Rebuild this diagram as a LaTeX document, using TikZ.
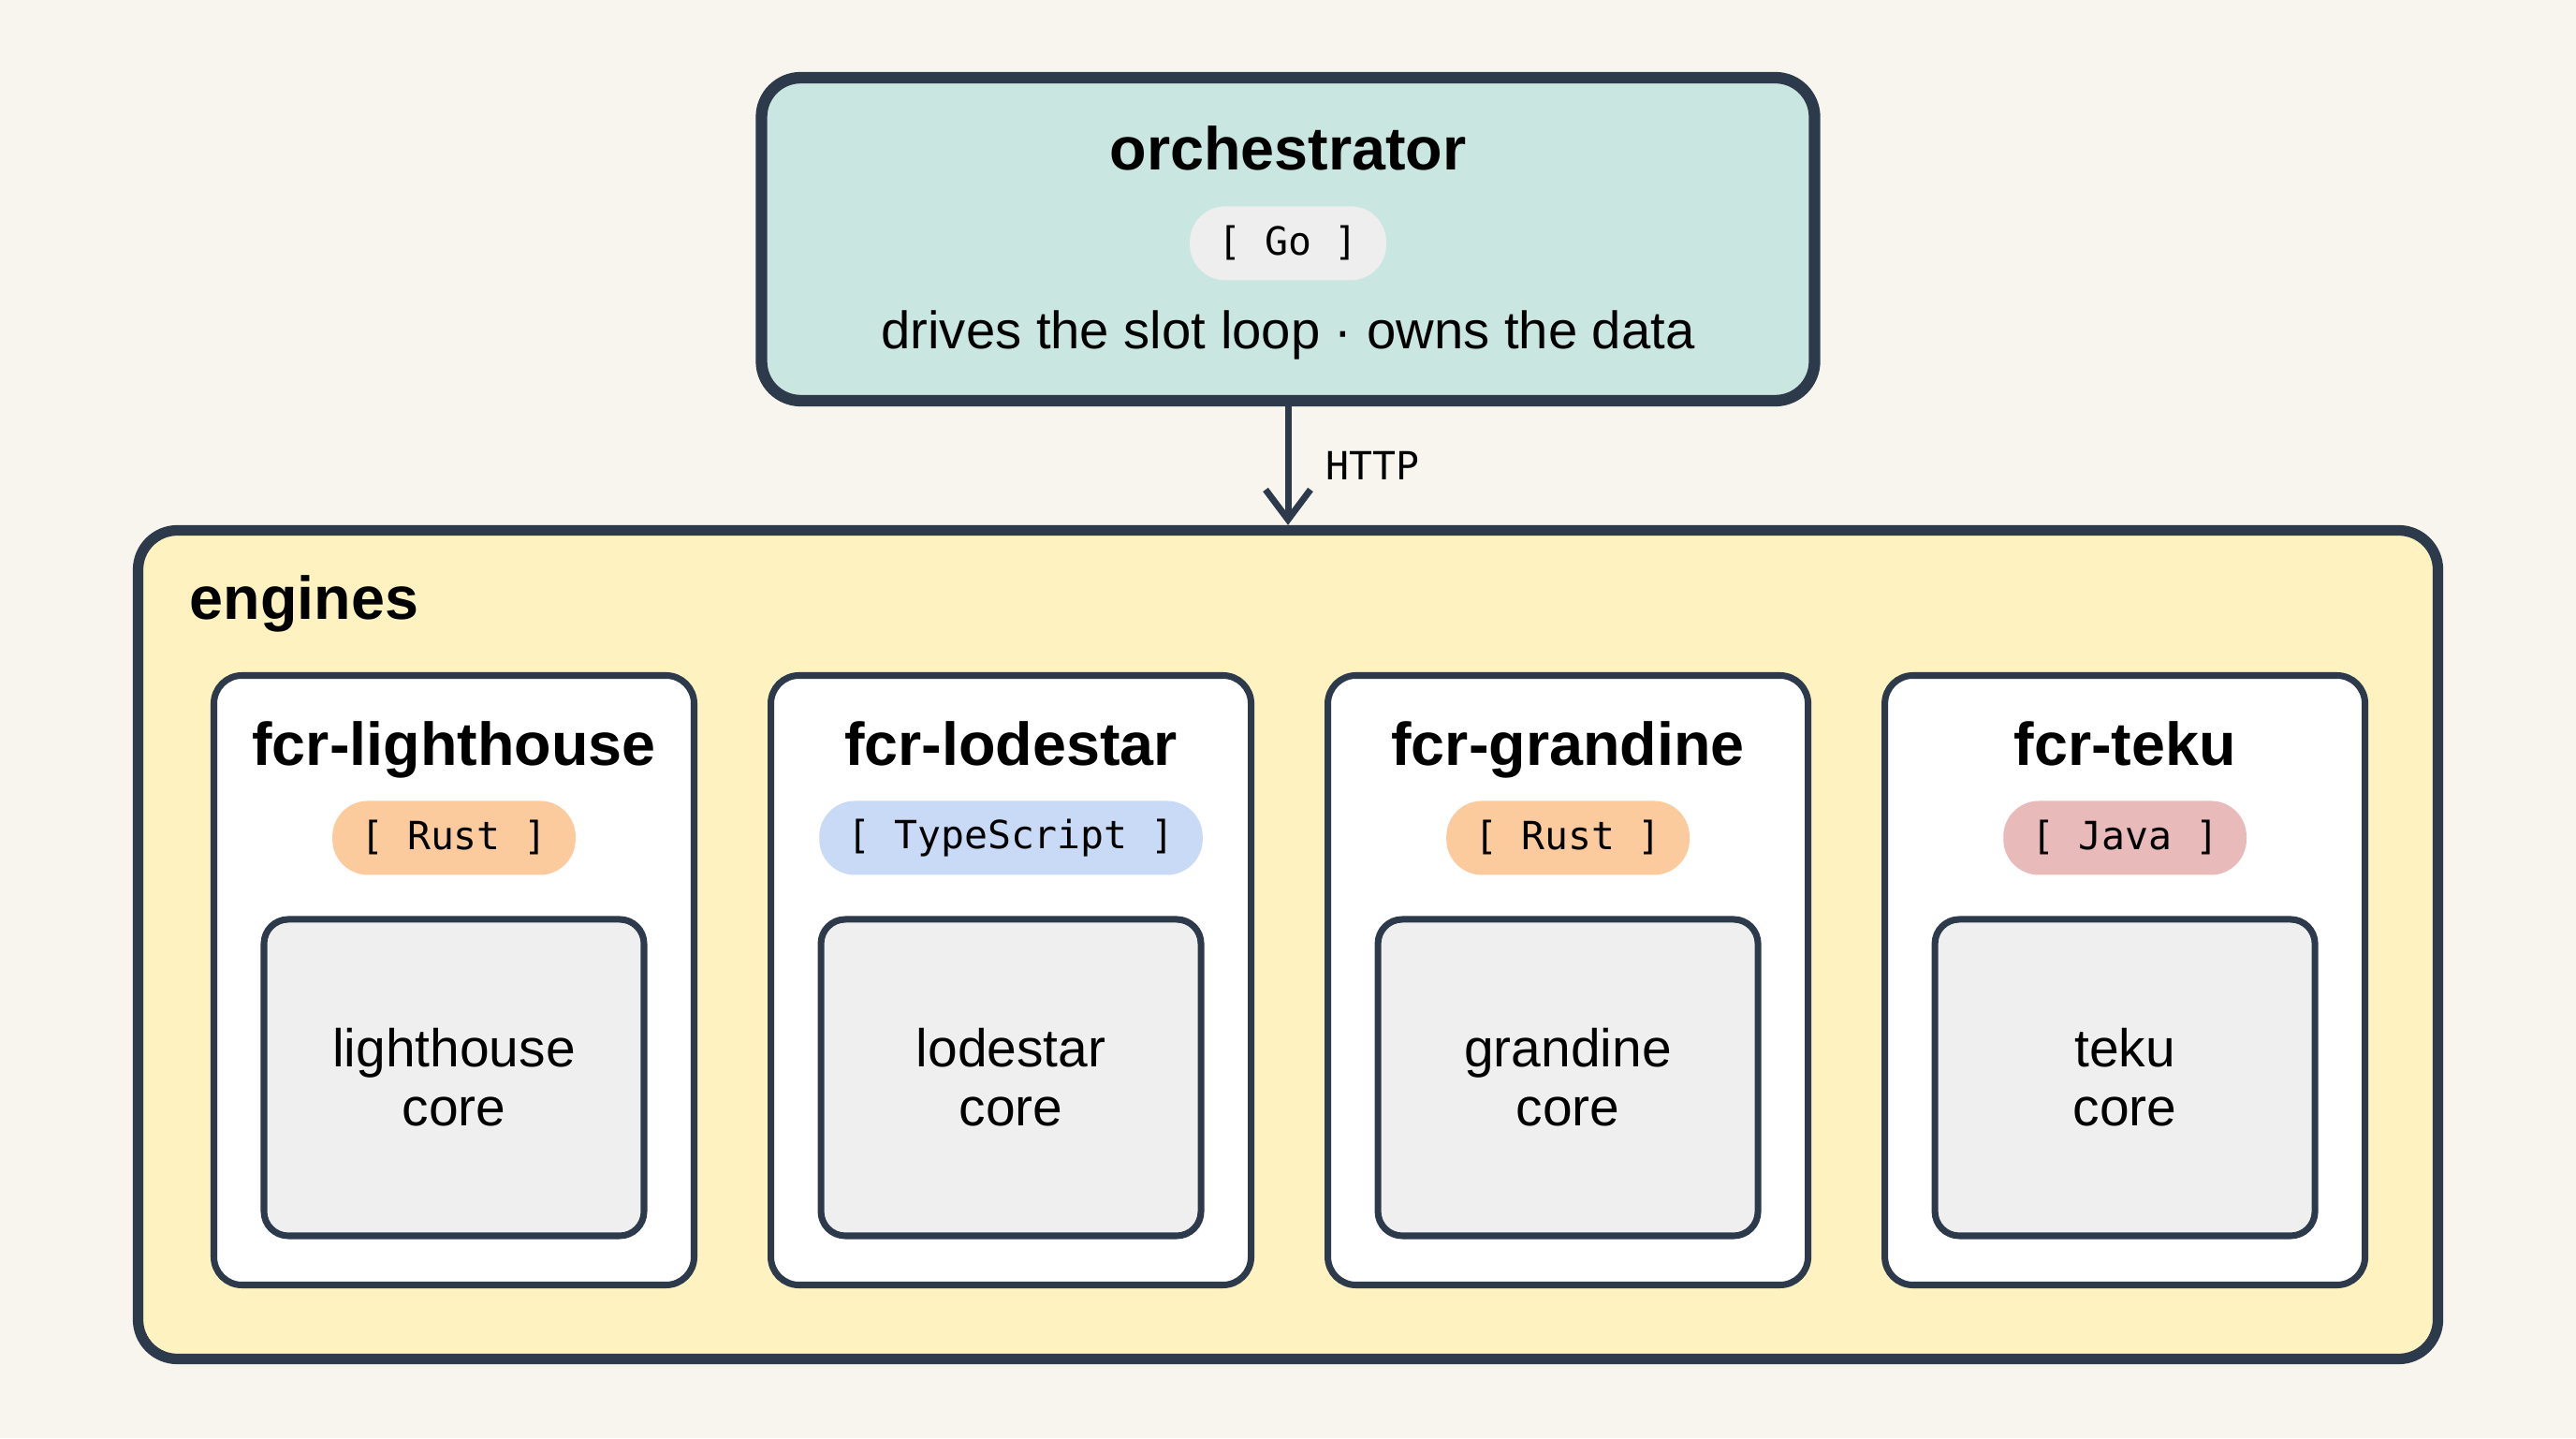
\documentclass[tikz,border=0pt]{standalone}
\usepackage{fontspec}
\setmainfont{Liberation Sans}
\setmonofont{DejaVu Sans Mono}
\usetikzlibrary{arrows.meta,positioning,calc}
\definecolor{EngInk}{HTML}{2C3A4B}
\definecolor{EngPaper}{HTML}{F8F5EE}
\definecolor{EngTeal}{HTML}{C9E6E0}
\definecolor{EngYellow}{HTML}{FDF2C0}
\definecolor{EngCore}{HTML}{EFEFEF}
\definecolor{EngGo}{HTML}{EEEEEE}
\definecolor{EngRust}{HTML}{FBCB9E}
\definecolor{EngTS}{HTML}{C8DAF5}
\definecolor{EngJava}{HTML}{E8BABA}

\begin{document}
\begin{tikzpicture}[x=1cm,y=1cm,>={Straight Barb[length=0.32cm,width=0.48cm]},
  outerbox/.style={draw=EngInk,inner sep=0pt,rounded corners=0.42cm},
  card/.style={draw=EngInk,line width=2pt,fill=white,rounded corners=0.3cm,
               minimum width=5.13cm,minimum height=6.51cm,inner sep=0pt},
  corebox/.style={draw=EngInk,line width=2pt,fill=EngCore,rounded corners=0.26cm,
                  minimum width=4.06cm,minimum height=3.38cm,align=center,
                  font=\fontsize{16.2}{18}\selectfont},
  cardtitle/.style={font=\bfseries\fontsize{18.4}{21}\selectfont,inner sep=0pt},
  langtag/.style={rounded corners=0.38cm,minimum height=0.79cm,inner xsep=0.3cm,
                  inner ysep=0pt,font=\ttfamily\fontsize{11.8}{13}\selectfont}]
  \fill[EngPaper] (0,0) rectangle (27.52,15.36);
  \useasboundingbox (0,0) rectangle (27.52,15.36);

  % orchestrator
  \node[outerbox,line width=3.5pt,fill=EngTeal,
        minimum width=11.25cm,minimum height=3.45cm] (orch) at (13.76,12.805) {};
  \node[cardtitle,anchor=base] (orchName) at ($(orch.north)+(0,-1.05)$) {orchestrator};
  \node[langtag,fill=EngGo] (orchLang) at ($(orch.north)+(0,-1.83)$) {[ Go ]};
  \node[anchor=base,inner sep=0pt,font=\fontsize{16}{18}\selectfont] (orchNote)
        at ($(orch.north)+(0,-2.96)$) {drives the slot loop \textperiodcentered{} owns the data};

  % engines
  \node[outerbox,line width=3.2pt,fill=EngYellow,
        minimum width=24.57cm,minimum height=8.85cm] (engines) at (13.76,5.27) {};
  \node[cardtitle,anchor=base west] (enginesName) at (2.02,8.74) {engines};

  \node[card] (lhCard) at (4.85,4.89) {};
  \node[card,right=0.75cm of lhCard] (lsCard) {};
  \node[card,right=0.75cm of lsCard] (grCard) {};
  \node[card,right=0.75cm of grCard] (tkCard) {};

  \node[cardtitle,anchor=base] (lhName) at ($(lhCard.north)+(0,-1.00)$) {fcr-lighthouse};
  \node[langtag,fill=EngRust] (lhLang) at ($(lhCard.north)+(0,-1.77)$) {[ Rust ]};
  \node[corebox] (lhCore) at ($(lhCard.north)+(0,-4.33)$) {lighthouse\\core};

  \node[cardtitle,anchor=base] (lsName) at ($(lsCard.north)+(0,-1.00)$) {fcr-lodestar};
  \node[langtag,fill=EngTS] (lsLang) at ($(lsCard.north)+(0,-1.77)$) {[ TypeScript ]};
  \node[corebox] (lsCore) at ($(lsCard.north)+(0,-4.33)$) {lodestar\\core};

  \node[cardtitle,anchor=base] (grName) at ($(grCard.north)+(0,-1.00)$) {fcr-grandine};
  \node[langtag,fill=EngRust] (grLang) at ($(grCard.north)+(0,-1.77)$) {[ Rust ]};
  \node[corebox] (grCore) at ($(grCard.north)+(0,-4.33)$) {grandine\\core};

  \node[cardtitle,anchor=base] (tkName) at ($(tkCard.north)+(0,-1.00)$) {fcr-teku};
  \node[langtag,fill=EngJava] (tkLang) at ($(tkCard.north)+(0,-1.77)$) {[ Java ]};
  \node[corebox] (tkCore) at ($(tkCard.north)+(0,-4.33)$) {teku\\core};

  \draw[->,EngInk,line width=2pt] (orch.south) -- node[midway,right=0.37cm,inner sep=0pt,
        text=black,font=\ttfamily\fontsize{11.8}{13}\selectfont] (httpLabel) {HTTP} (engines.north);
\end{tikzpicture}
\end{document}
